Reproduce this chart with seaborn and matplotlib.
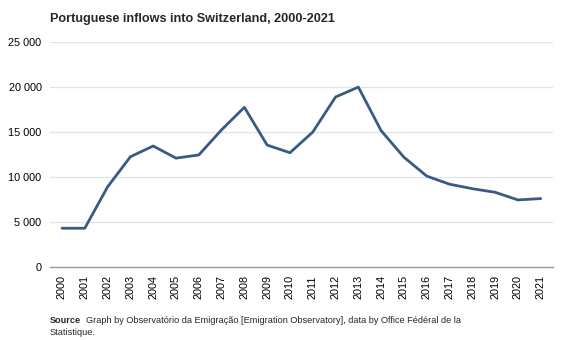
import matplotlib
matplotlib.use("Agg")
import matplotlib.pyplot as plt
from matplotlib.ticker import FuncFormatter
import seaborn as sns
import pandas as pd

years = list(range(2000, 2022))
inflows = [4300, 4300, 8900, 12250, 13450, 12100, 12450, 15250, 17750, 13550,
           12700, 15000, 18900, 20000, 15150, 12200, 10100, 9200, 8700, 8300,
           7450, 7600]
y_ticks = [0, 5000, 10000, 15000, 20000, 25000]

df = pd.DataFrame({"year": years, "inflows": inflows})

sns.set_theme(style="white")
plt.rcParams["font.family"] = ["Liberation Sans", "DejaVu Sans"]

fig = plt.figure(figsize=(5.67, 3.4), dpi=100)
ax = fig.add_axes([0.088, 0.215, 0.887, 0.661])

sns.lineplot(data=df, x="year", y="inflows", ax=ax, color="#3a5a84",
             linewidth=2.0, clip_on=False)

ax.set_ylim(0, 25000)
ax.set_xlim(2000 - 0.53, 2021 + 0.53)
ax.set_yticks(y_ticks)
ax.yaxis.set_major_formatter(FuncFormatter(lambda v, p: f"{int(v):,}".replace(",", " ")))
ax.set_xticks(years)
ax.set_xticklabels([str(y) for y in years], rotation=90)
ax.tick_params(axis="both", labelsize=7.8, colors="#000000", length=0, pad=6)
ax.grid(axis="y", color="#dfe3ea", linewidth=0.9)
ax.set_axisbelow(True)
for s in ["top", "right", "left"]:
    ax.spines[s].set_visible(False)
ax.spines["bottom"].set_color("#9a9a9a")
ax.spines["bottom"].set_linewidth(1.0)
ax.set_xlabel("")
ax.set_ylabel("")

fig.text(0.088, 0.945, "Portuguese inflows into Switzerland, 2000-2021",
         fontsize=9.1, fontweight="bold", ha="left", va="center")
fig.text(0.088, 0.058, "Source", fontsize=6.6, fontweight="bold", ha="left", va="center")
fig.text(0.152, 0.058,
         "Graph by Observatório da Emigração [Emigration Observatory], data by Office Fédéral de la",
         fontsize=6.6, ha="left", va="center")
fig.text(0.088, 0.022, "Statistique.", fontsize=6.6, ha="left", va="center")

fig.savefig("out.png", dpi=100)
